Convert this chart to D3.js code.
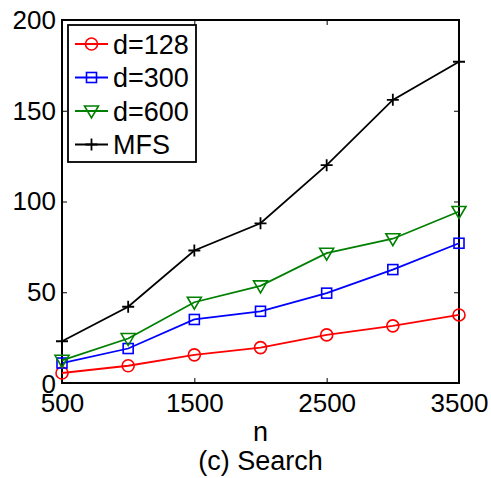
<!DOCTYPE html>
<html>
<head>
<meta charset="utf-8">
<script src="https://cdn.jsdelivr.net/npm/d3@7"></script>
<style>
  body { margin: 0; background: #fff; }
  text { font-family: "Liberation Sans", Arial, sans-serif; }
</style>
</head>
<body>
<div id="chart"></div>
<script>
// data
const nValues = [500, 1000, 1500, 2000, 2500, 3000, 3500];
const d128 = [5.5, 9.5, 15.5, 19.5, 26.5, 31.5, 37.5];
const d300 = [11, 19, 35, 39.5, 49.5, 62.5, 77];
const d600 = [12.5, 24.5, 44.5, 53.5, 71.5, 79.5, 94.5];
const mfs = [23, 42, 73, 88, 120, 156, 177];
const xTickValues = [500, 1500, 2500, 3500];
const yTickValues = [0, 50, 100, 150, 200];

const series = [
  { name: 'd=128', values: d128, color: '#ff0000', marker: 'circle' },
  { name: 'd=300', values: d300, color: '#0000ff', marker: 'square' },
  { name: 'd=600', values: d600, color: '#008000', marker: 'triangle' },
  { name: 'MFS', values: mfs, color: '#000000', marker: 'plus' }
];

const W = 491, H = 478;
const margin = { top: 20, right: 32, bottom: 95, left: 62 };
const width = W - margin.left - margin.right;
const height = H - margin.top - margin.bottom;

const svg = d3.select('#chart').append('svg')
  .attr('width', W)
  .attr('height', H);

const g = svg.append('g')
  .attr('transform', `translate(${margin.left},${margin.top})`);

const x = d3.scaleLinear().domain([500, 3500]).range([0, width]);
const y = d3.scaleLinear().domain([0, 200]).range([height, 0]);

// box
g.append('rect')
  .attr('width', width).attr('height', height)
  .attr('fill', 'none').attr('stroke', '#000').attr('stroke-width', 2);

// axes (inward ticks)
const fs = '26px';
g.append('g')
  .attr('transform', `translate(0,${height})`)
  .call(d3.axisBottom(x).tickValues(xTickValues).tickSize(-5).tickPadding(11).tickFormat(d3.format('d')))
  .call(a => a.select('.domain').remove())
  .call(a => a.selectAll('text').style('font-size', fs).attr('fill', '#000'));
g.append('g')
  .call(d3.axisTop(x).tickValues(xTickValues).tickSize(-5).tickFormat(''))
  .call(a => a.select('.domain').remove());
g.append('g')
  .call(d3.axisLeft(y).tickValues(yTickValues).tickSize(-5).tickPadding(6))
  .call(a => a.select('.domain').remove())
  .call(a => a.selectAll('text').style('font-size', fs).attr('fill', '#000'))
  .call(a => a.selectAll('.tick').filter(d => d === 0).select('text').attr('dy', '0.38em'));
g.append('g')
  .attr('transform', `translate(${width},0)`)
  .call(d3.axisRight(y).tickValues(yTickValues).tickSize(-5).tickFormat(''))
  .call(a => a.select('.domain').remove());

const line = d3.line()
  .x((d, i) => x(nValues[i]))
  .y(d => y(d));

function drawMarker(sel, type, color) {
  if (type === 'circle') {
    sel.append('circle').attr('r', 6).attr('fill', 'none')
      .attr('stroke', color).attr('stroke-width', 1.6);
  } else if (type === 'square') {
    sel.append('rect').attr('x', -5).attr('y', -5).attr('width', 10).attr('height', 10)
      .attr('fill', 'none').attr('stroke', color).attr('stroke-width', 1.6);
  } else if (type === 'triangle') {
    sel.append('path').attr('d', 'M-7,-5L7,-5L0,7Z').attr('fill', 'none')
      .attr('stroke', color).attr('stroke-width', 1.6);
  } else {
    sel.append('path').attr('d', 'M-6,0H6M0,-6V6').attr('fill', 'none')
      .attr('stroke', color).attr('stroke-width', 1.8);
  }
}

series.forEach(s => {
  g.append('path')
    .datum(s.values)
    .attr('d', line)
    .attr('fill', 'none')
    .attr('stroke', s.color)
    .attr('stroke-width', 1.8);
  s.values.forEach((v, i) => {
    const m = g.append('g').attr('transform', `translate(${x(nValues[i])},${y(v)})`);
    drawMarker(m, s.marker, s.color);
  });
});

// legend
const legend = g.append('g').attr('transform', 'translate(6,5)');
legend.append('rect')
  .attr('width', 128).attr('height', 137)
  .attr('fill', '#fff').attr('stroke', '#000').attr('stroke-width', 1.8);
series.forEach((s, i) => {
  const ly = 19 + i * 33.5;
  legend.append('line')
    .attr('x1', 7).attr('x2', 40).attr('y1', ly).attr('y2', ly)
    .attr('stroke', s.color).attr('stroke-width', 1.8);
  const m = legend.append('g').attr('transform', `translate(23.5,${ly})`);
  drawMarker(m, s.marker, s.color);
  legend.append('text')
    .attr('x', 45).attr('y', ly)
    .attr('dy', '0.36em')
    .style('font-size', '27px')
    .text(s.name);
});

// labels
svg.append('text')
  .attr('x', margin.left + width / 2)
  .attr('y', 441)
  .attr('text-anchor', 'middle')
  .style('font-size', '27px')
  .text('n');
svg.append('text')
  .attr('x', margin.left + width / 2)
  .attr('y', 470)
  .attr('text-anchor', 'middle')
  .style('font-size', '27px')
  .text('(c) Search');
</script>
</body>
</html>
